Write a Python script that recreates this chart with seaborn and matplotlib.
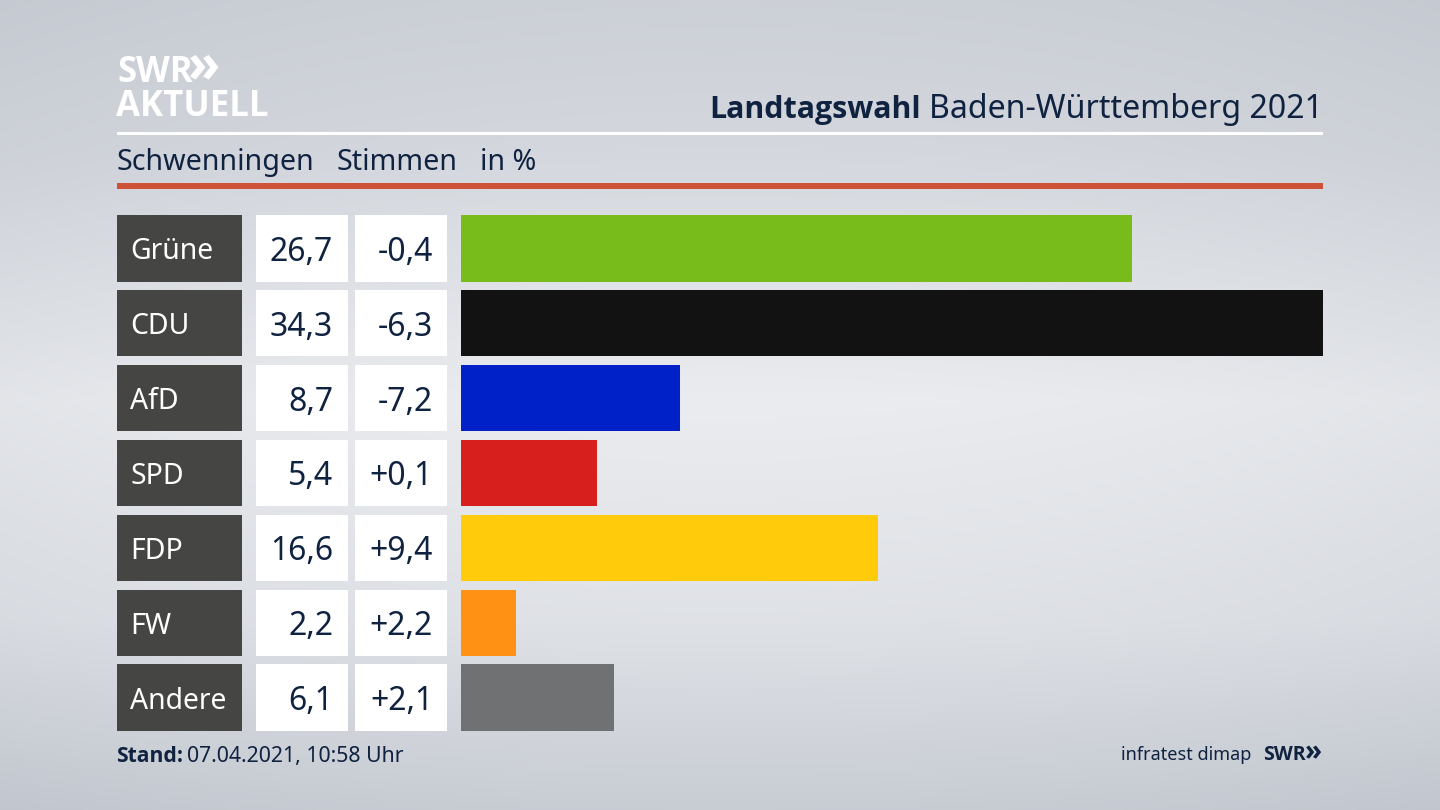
import numpy as np
import pandas as pd
import matplotlib
matplotlib.use('Agg')
import matplotlib.pyplot as plt
from matplotlib.patches import Rectangle
from matplotlib.transforms import blended_transform_factory
import seaborn as sns

parties = ['Grüne', 'CDU', 'AfD', 'SPD', 'FDP', 'FW', 'Andere']
votes = [26.7, 34.3, 8.7, 5.4, 16.6, 2.2, 6.1]
changes = ['-0,4', '-6,3', '-7,2', '+0,1', '+9,4', '+2,2', '+2,1']
bar_colors = ['#78bc1b', '#121212', '#0021c8', '#d71f1d', '#ffcb0a', '#ff9115', '#707173']

sns.set_theme(style='white')
plt.rcParams['font.family'] = ['Noto Sans', 'DejaVu Sans']
bold_font = ['Open Sans', 'DejaVu Sans']

navy = '#0f2240'
df = pd.DataFrame({'party': parties, 'votes': votes})

fig = plt.figure(figsize=(14.4, 8.1), dpi=100)

# background, all the furniture sits on this one in pixel coords
bg = fig.add_axes([0, 0, 1, 1])
bg.set_xlim(0, 1440)
bg.set_ylim(810, 0)
bg.axis('off')
stops_y = [0, 150, 400, 620, 810]
stops_v = [0.815, 0.845, 0.925, 0.885, 0.80]
grad = np.interp(np.arange(810), stops_y, stops_v).reshape(-1, 1)
side = 1 - 0.03 * np.abs(np.linspace(-1, 1, 1440)) ** 2
img = grad * side[None, :]
rgb = np.dstack([img * (1 - (1 - img) * 0.1), img, img * (1 + (1 - img) * 0.18)]).clip(0, 1)
bg.imshow(rgb, extent=[0, 1440, 810, 0], aspect='auto', zorder=0)

# bars
ax = fig.add_axes([461 / 1440, 1 - 731 / 810, 862 / 1440, 516 / 810])
ax.patch.set_alpha(0)
sns.barplot(data=df, y='party', x='votes', hue='party', palette=bar_colors,
            legend=False, width=0.888, saturation=1, linewidth=0, ax=ax)
ax.set_xlim(0, max(votes))
ax.set_ylim(len(parties) - 1 + 0.444, -0.444)
ax.axis('off')

# table cells next to the bars
tr = blended_transform_factory(bg.transData, ax.transData)
for i, p in enumerate(parties):
    y0 = i - 0.444
    bg.add_patch(Rectangle((117, y0), 124.5, 0.888, transform=tr, fc='#454543', ec='none', zorder=2))
    bg.add_patch(Rectangle((256, y0), 92, 0.888, transform=tr, fc='white', ec='none', zorder=2))
    bg.add_patch(Rectangle((355, y0), 92, 0.888, transform=tr, fc='white', ec='none', zorder=2))
    bg.text(130, i, p, transform=tr, color='white', fontsize=20.4, va='center_baseline', zorder=3)
    bg.text(333, i, f'{votes[i]:.1f}'.replace('.', ','), transform=tr, color=navy,
            fontsize=23, ha='right', va='center_baseline', zorder=3)
    bg.text(433, i, changes[i], transform=tr, color=navy,
            fontsize=23, ha='right', va='center_baseline', zorder=3)

# header
bg.text(117, 82, 'SWR', color='white', fontsize=25, fontweight='bold', family=bold_font, va='baseline')
bg.text(188, 81, '»', color='white', fontsize=38, fontweight='bold', family=bold_font, va='baseline')
bg.text(116, 116, 'AKTUELL', color='white', fontsize=25, fontweight='bold', family=bold_font, va='baseline')
bg.text(1323, 118, 'Baden-Württemberg 2021', color=navy, fontsize=23.1, ha='right', va='baseline')
bg.text(921, 118, 'Landtagswahl', color=navy, fontsize=21.9, fontweight='bold', family=bold_font, ha='right', va='baseline')
bg.add_patch(Rectangle((117, 132), 1206, 3, fc='white', ec='none'))
bg.text(117, 170, 'Schwenningen', color=navy, fontsize=20.6, va='baseline')
bg.text(336, 170, 'Stimmen', color=navy, fontsize=20.6, va='baseline')
bg.text(480, 170, 'in %', color=navy, fontsize=20.6, va='baseline')
bg.add_patch(Rectangle((117, 183), 1206, 6, fc='#cd5238', ec='none'))

# footer
bg.text(116, 762, 'Stand:', color=navy, fontsize=15.2, fontweight='bold', family=bold_font, va='baseline')
bg.text(187, 762, '07.04.2021, 10:58 Uhr', color=navy, fontsize=15.3, va='baseline')
bg.text(1251, 760, 'infratest dimap', color=navy, fontsize=13, ha='right', va='baseline')
bg.text(1263, 760, 'SWR', color=navy, fontsize=14, fontweight='bold', family=bold_font, va='baseline')
bg.text(1305, 760, '»', color=navy, fontsize=20, fontweight='bold', family=bold_font, va='baseline')

fig.savefig('out.png', dpi=100)
